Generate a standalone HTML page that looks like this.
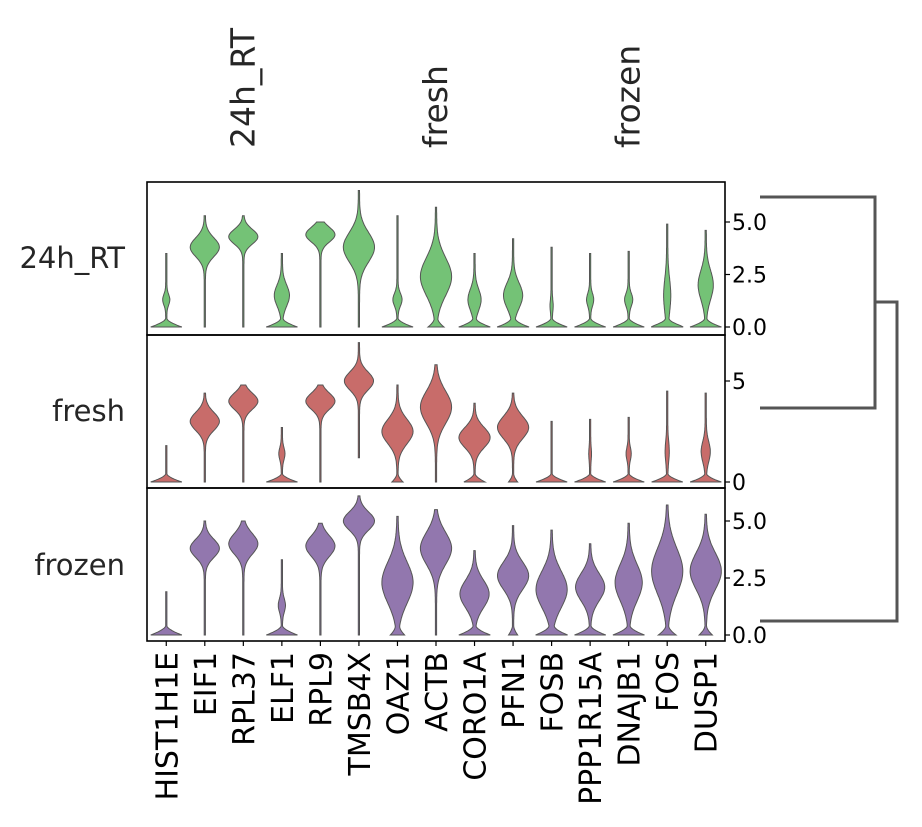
<!DOCTYPE html>
<html><head><meta charset="utf-8"><style>
html,body{margin:0;padding:0;background:#fff;}
svg{display:block;font-family:"DejaVu Sans","Liberation Sans",sans-serif;}
</style></head><body>
<svg id="chart" width="922" height="827" viewBox="0 0 922 827" xmlns="http://www.w3.org/2000/svg"></svg>
<script>
const genes = ["HIST1H1E","EIF1","RPL37","ELF1","RPL9","TMSB4X","OAZ1","ACTB","CORO1A","PFN1","FOSB","PPP1R15A","DNAJB1","FOS","DUSP1"];
const groups = ["24h_RT","fresh","frozen"];
// per group: zero-blob width, mode value, mode spread, mode width, top value, bottom value
const zeroW = [
 [15,0,0,15,0,0,15,7,15,15,15,15,15,16,15],
 [15,0,0,15,0,0,5,0,10,4,15,15,15,15,15],
 [15,0,0,15,0,0,6,0,15,4,15,15,15,8,6]];
const modeV = [
 [1.3,3.8,4.3,1.5,4.4,3.8,1.3,2.4,1.3,1.5,1.0,1.3,1.3,1.5,2.0],
 [1.0,3.0,4.0,1.4,4.0,5.0,2.5,3.7,2.2,2.7,1.0,1.4,1.4,1.5,1.5],
 [1.0,3.8,4.0,1.3,3.9,5.0,2.3,3.8,1.8,2.6,2.0,2.1,2.3,2.8,2.8]];
const modeS = [
 [0.25,0.45,0.35,0.5,0.35,0.7,0.3,0.9,0.5,0.6,0.3,0.3,0.3,0.8,0.7],
 [0.3,0.45,0.4,0.3,0.4,0.45,0.6,0.8,0.5,0.55,0.3,0.3,0.3,0.5,0.5],
 [0.3,0.4,0.45,0.3,0.45,0.4,0.9,0.7,0.6,0.6,0.8,0.6,0.8,1.0,0.8]];
const modeW = [
 [3,14,14,7,14,15,4,15,6,9,1,3,3.5,3,7],
 [0,14,14,2.5,14,14,15,15,15,15,0,0.8,2,1.5,4],
 [0,14,14,3,14,15,15,15,14,15,15,14,13,15,15]];
const topV = [
 [3.5,5.3,5.3,3.5,5.0,6.5,5.3,5.7,3.5,4.2,3.8,3.5,3.6,4.9,4.6],
 [1.8,4.4,4.8,2.7,4.8,6.9,4.8,5.8,3.9,4.4,3.0,3.1,3.2,4.5,4.4],
 [1.9,5.0,5.0,3.3,4.9,6.1,5.2,5.5,3.7,4.8,4.6,4.0,4.9,5.7,5.3]];
const botV = [
 [0,0,0,0,0,0,0,0,0,0,0,0,0,0,0],
 [0,0,0,0,0,1.2,0,0,0,0,0,0,0,0,0],
 [0,0,0,0,0,0,0,0,0,0,0,0,0,0,0]];
const tickVals = [[0,2.5,5],[0,5],[0,2.5,5]];
const tickLabels = [["0.0","2.5","5.0"],["0","5"],["0.0","2.5","5.0"]];
const colors = ["#74c276","#c86c6a","#9277ae"];

const NS="http://www.w3.org/2000/svg";
const svg=document.getElementById('chart');
function mk(t,a,p){const e=document.createElementNS(NS,t);for(const k in a)e.setAttribute(k,a[k]);(p||svg).appendChild(e);return e;}
const X0=147,X1=725,colW=(X1-X0)/genes.length;
const rowTop=[182,335,488],rowH=153;
const zeroY=[327,482,635],pxPerUnit=[21,20.2,22.8];
function xC(i){return X0+colW*(i+0.5);}
function yV(r,v){return zeroY[r]-v*pxPerUnit[r];}

groups.forEach((g,r)=>{
  const gp=mk('g',{});
  
  
  genes.forEach((gn,i)=>{
    const pts=[],N=80,b=botV[r][i],t=topV[r][i];
    for(let k=0;k<=N;k++){
      const v=b+(t-b)*k/N;
      let w=0.6;
      if(zeroW[r][i]>0&&v<0.4)w+=zeroW[r][i]*Math.pow(Math.max(0,1-v/0.4),1.6);
      if(modeW[r][i]>0)w+=modeW[r][i]*Math.exp(-0.5*Math.pow((v-modeV[r][i])/modeS[r][i],2));
      w=Math.min(w,16);
      pts.push([w,yV(r,v)]);
    }
    let d='M'+(xC(i)-pts[0][0]).toFixed(1)+','+pts[0][1].toFixed(1);
    pts.forEach(p=>d+='L'+(xC(i)-p[0]).toFixed(1)+','+p[1].toFixed(1));
    for(let k=pts.length-1;k>=0;k--)d+='L'+(xC(i)+pts[k][0]).toFixed(1)+','+pts[k][1].toFixed(1);
    d+='Z';
    const p=mk('path',{d:d,fill:colors[r],stroke:'#555','stroke-width':1},gp);
    
    
  });
  const fr=mk('rect',{x:X0,y:rowTop[r],width:X1-X0,height:rowH,fill:'none',stroke:'#000','stroke-width':1.6},gp);
  
  
  tickVals[r].forEach((tv,k)=>{
    const y=yV(r,tv);
    mk('line',{x1:X1,x2:X1+5,y1:y,y2:y,stroke:'#000','stroke-width':1.2},gp);
    const tx=mk('text',{x:X1+7,y:y+8,'font-size':22,fill:'#000'},gp);
    tx.textContent=tickLabels[r][k];
    
    
  });
  const rl=mk('text',{x:125,y:[268,421,575][r],'font-size':29,'text-anchor':'end',fill:'#262626'},gp);
  rl.textContent=g;
  
  
  const cx=xC([2,7,12][r]);
  const tl=mk('text',{x:0,y:0,'font-size':33,fill:'#262626',transform:'translate('+(cx+11)+',148) rotate(-90)'});
  tl.textContent=g;
  
  
});
genes.forEach((gn,i)=>{
  mk('line',{x1:xC(i),x2:xC(i),y1:641,y2:646,stroke:'#000','stroke-width':1.2});
  const t=mk('text',{x:0,y:0,'font-size':30,'text-anchor':'end',fill:'#000',transform:'translate('+(xC(i)+11)+',652) rotate(-90)'});
  t.textContent=gn;
  
  
});
const dg=mk('path',{d:'M760,197H875V408H760M875,302H897V621H760',fill:'none',stroke:'#555','stroke-width':3});


</script>
</body></html>
